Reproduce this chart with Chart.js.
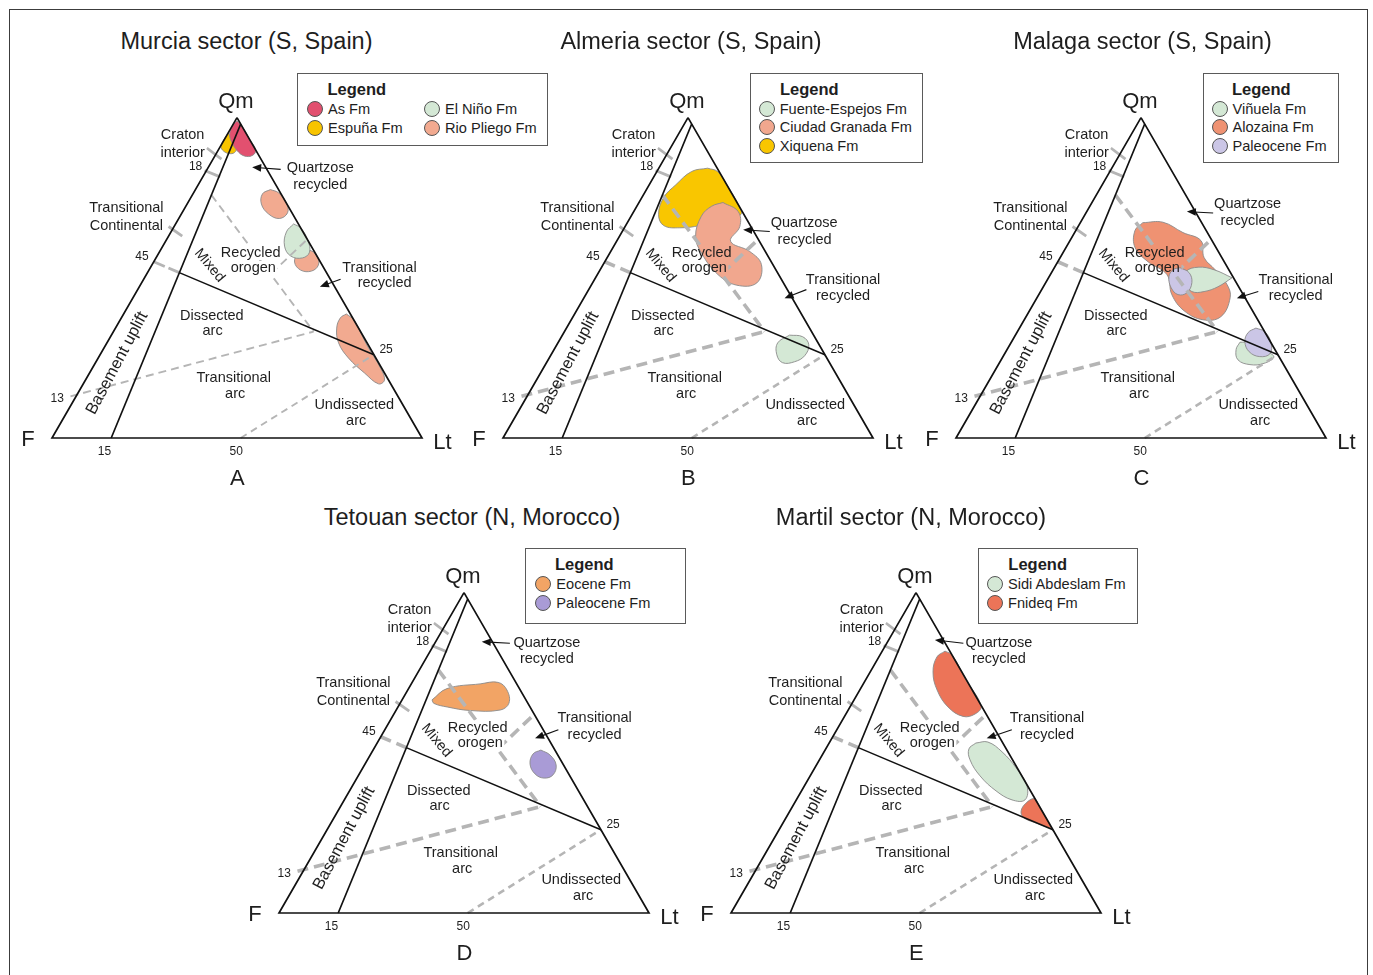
<!DOCTYPE html>
<html><head><meta charset="utf-8">
<script src="https://cdn.jsdelivr.net/npm/chart.js@4.4.1/dist/chart.umd.min.js"></script>
<style>
body{margin:0;background:#fff;width:1373px;height:975px;overflow:hidden;position:relative;font-family:"Liberation Sans",Arial,sans-serif;color:#1e1e1e}
.frame{position:absolute;left:9px;top:9px;width:1357px;height:1000px;border:1.5px solid #3c3c3c}
.panel{position:absolute;width:450px;height:440px}
.title{position:absolute;font-size:23.5px;transform:translate(-50%,-50%);white-space:nowrap}
.legend{position:absolute;border:1px solid #5a5a5a;background:#fff;box-sizing:border-box}
.lg-h{position:absolute;font-weight:bold;font-size:16.5px;transform:translateY(-50%);white-space:nowrap}
.lg-m{position:absolute;width:16px;height:16px;border-radius:50%;border:1px solid #555;box-sizing:border-box;transform:translate(-50%,-50%)}
.lg-t{position:absolute;font-size:14.6px;transform:translateY(-50%);white-space:nowrap}
</style></head>
<body>
<div class="frame"></div>
<script>
// ---------- data: compositions [Qm, F, Lt] (%) ----------
const VERTICES = [[100,0,0],[0,100,0],[0,0,100],[100,0,0]];
const BASEMENT_LINE = [[0,84,16],[98,0,2]];
const ARC_LINE = [[51.6,39.8,8.6],[26,0,74]];
const ARC_LINE_EXT = [[55,45,0],[51.6,39.8,8.6]];
const MIXED_LINE = [[75.8,19,5.2],[33.2,12.7,54.1]];
const TRANS_ARC_LINE = [[13,88.5,-1.5],[33.2,12.7,54.1]];
const UNDISSECTED_LINE = [[0,49,51],[26,0,74]];
const TRANS_RECYCLED_LINE = [[51.4,15,33.6],[62,0,38]];
const CRATON_TICK = [[90.5,12.9,-3.4],[87,10.7,2.3]];
const TICK_18 = [[83.5,17,-0.5],[81.5,13.8,4.7]];
const TRANS_CONT_TICK = [[66,35.5,-1.5],[63,33.3,3.7]];

// Murcia
const A_ESPUNA = [[95.2,4.8,0],[91.4,8.6,0],[89.9,9,1.1],[88.8,7.9,3.3],[89.1,6.1,4.8],[90.8,4.7,4.5],[93.3,4.6,2.1]];
const A_AS = [[99,0.5,0.5],[96.8,0,3.2],[93,0,7],[89.9,0,10.1],[88.2,1.7,10.1],[88,4,8],[89.6,5.1,5.3],[91.8,5.3,2.9],[94.6,4.7,0.7],[97.3,2.6,0.1]];
const A_RIO_1 = [[77.6,2.2,20.3],[76.5,0.5,23],[73.3,0,26.7],[70.2,1.2,28.5],[68.5,4.3,27.2],[69.9,6.5,23.6],[73,6.9,20.1],[76.2,5,18.8]];
const A_RIO_2 = [[58,4.6,37.4],[58.7,1.3,40],[56.8,0,43.2],[54,1,45],[52.1,3.8,44.1],[52.4,6.6,41],[54.9,7,38.1]];
const A_ELNINO = [[66.8,1.3,31.9],[65.5,0,34.5],[61.8,0,38.2],[58,1.4,40.6],[56.2,4.2,39.6],[56.8,7.1,36.1],[59.9,7.2,32.9],[64.3,4.5,31.2]];
const A_RIO_3 = [[38.7,1.1,60.2],[36.8,0,63.2],[28.7,0.4,70.9],[21.8,0.3,77.9],[18.1,1.1,80.8],[16.9,3.3,79.8],[20.3,5.4,74.3],[25,7.4,67.6],[29.7,7.7,62.6],[34.3,5.9,59.8],[37.5,3.3,59.2]];
// Almeria
const B_XIQUENA = [[84.2,2.6,13.2],[83.1,0.4,16.5],[78.4,0,21.6],[72.8,0,27.2],[69.7,0.9,29.4],[68.1,7.4,24.5],[66.3,13.7,20],[65.6,19.4,15],[66.3,23.4,10.3],[69.7,23.1,7.2],[75,19.1,5.9],[79.1,13.8,7.2],[83.1,7.4,9.4]];
const B_CIUDAD = [[73.5,3.8,22.7],[70.7,1.1,28.2],[66,3,31],[61.4,7.8,30.8],[58.2,4.2,37.6],[54.1,3.1,42.8],[48.4,7.2,44.4],[47.7,13,39.3],[51,16.4,32.6],[57.7,17.5,24.8],[62.9,16.5,20.6],[69.2,11.8,19],[72.3,7.5,20.2]];
const B_FUENTE = [[32.1,6.5,61.4],[31.6,3.2,65.2],[29.1,2.8,68.1],[25.7,5.6,68.7],[23.8,9.3,66.9],[23.5,12.7,63.8],[26,13,61],[29.7,10.9,59.4]];
// Malaga
const C_ALOZAINA = [[67.2,15.9,16.9],[67.4,10.4,22.3],[64.1,6.6,29.3],[61.6,3,35.4],[56.3,4.8,38.9],[52.5,3.7,43.8],[47.8,2.8,49.3],[43.8,4,52.2],[37.9,9.5,52.7],[36.9,14.8,48.3],[39.7,18.5,41.8],[44.7,19.3,36],[51,17.5,31.5],[55,20.6,24.4],[59.4,21.9,18.7],[64.7,19.3,16]];
const C_VINUELA_1 = [[50,0.4,49.6],[47.2,5.6,47.2],[45.7,10.1,44.2],[45.7,13.4,40.9],[48.2,13.8,38],[51.9,11.9,36.2],[53.3,7.9,38.8],[52.5,4,43.5]];
const C_PALEO_1 = [[53.2,12.9,34],[51.6,11.2,37.2],[48.5,12,39.5],[45.4,14.9,39.8],[44.7,17.6,37.6],[46.9,18.4,34.7],[50.3,17.3,32.4],[52.5,15.1,32.4]];
const C_VINUELA_2 = [[29.9,8.3,61.8],[27.6,10.5,61.9],[24.4,11.6,64],[22.9,9.1,68],[23.3,5.1,71.6],[25.4,1.4,73.2],[27.6,3.5,68.9],[29.7,5.7,64.6]];
const C_PALEO_2 = [[34.3,1.8,63.9],[33.2,0,66.8],[29.7,0,70.3],[26.3,2,71.7],[25.4,5.2,69.4],[26.9,7.3,65.7],[30.1,6.9,63.1],[32.9,4.6,62.5]];
// Tetouan
const D_EOCENE = [[66.5,25.4,8.1],[70.1,19.6,10.4],[71.5,9.9,18.6],[71.9,4.8,23.2],[69.6,3.6,26.8],[65.5,5.1,29.4],[63.4,8.6,28.1],[63.2,16.8,20],[64.3,22.4,13.3],[65.4,25.4,9.2]];
const D_PALEO = [[50.9,3.8,45.4],[49.3,2.1,48.6],[46.2,2,51.8],[43.1,4.4,52.5],[42.1,7.3,50.6],[43.4,9.1,47.5],[46.5,8.9,44.6],[49.6,6.5,43.8]];
// Martil
const E_FNIDEQ_1 = [[81.8,1.3,17],[80.5,0,19.5],[72.7,0.1,27.2],[64.6,0.1,35.3],[62.1,3,34.9],[61.3,6.6,32],[64.3,9.2,26.5],[69.6,9.5,20.9],[75.2,7.8,17],[79.9,4.4,15.7]];
const E_SIDI = [[53.1,7.3,39.7],[53.4,3.9,42.8],[50.3,1.6,48.1],[45.3,0.3,54.4],[39.6,0.2,60.2],[35.3,2.9,61.8],[35.3,6.4,58.3],[38.1,9.3,52.6],[42.8,11.3,45.9],[47.8,11.5,40.7],[51.2,10.1,38.7]];
const E_FNIDEQ_2 = [[26.2,0.1,73.7],[30.3,0,69.7],[33.7,0,66.3],[35.7,0.2,64.1],[34.3,3.1,62.6],[31.8,5.7,62.5],[29.7,6,64.3],[27.9,3.1,69]];

const TITLES = ['Murcia sector (S, Spain)','Almeria sector (S, Spain)','Malaga sector (S, Spain)','Tetouan sector (N, Morocco)','Martil sector (N, Morocco)'];
const LETTERS = ['A','B','C','D','E'];
const A_NAMES = ['As Fm','Espuña Fm','El Niño Fm','Rio Pliego Fm'];
const B_NAMES = ['Fuente-Espejos Fm','Ciudad Granada Fm','Xiquena Fm'];
const C_NAMES = ['Viñuela Fm','Alozaina Fm','Paleocene Fm'];
const D_NAMES = ['Eocene Fm','Paleocene Fm'];
const E_NAMES = ['Sidi Abdeslam Fm','Fnideq Fm'];

// ---------- styles ----------
const COLORS = {
  'A:As Fm':'#e2506f','A:Espuña Fm':'#f8c400','A:El Niño Fm':'#d4e8d5','A:Rio Pliego Fm':'#f2aa90',
  'B:Fuente-Espejos Fm':'#d4e8d5','B:Ciudad Granada Fm':'#f1a78e','B:Xiquena Fm':'#f9c600',
  'C:Viñuela Fm':'#d4e8d5','C:Alozaina Fm':'#ef9272','C:Paleocene Fm':'#cbc6e6',
  'D:Eocene Fm':'#f2a465','D:Paleocene Fm':'#a99bd6',
  'E:Sidi Abdeslam Fm':'#d4e8d5','E:Fnideq Fm':'#ec7458'
};
const FONT = '"Liberation Sans", Arial, sans-serif';
const U = 3.7; // px per diagram unit (side = 100 units)
const ZONE = 14.5;

const COMMON_LABELS = [
 {t:'Qm',x:49.7,y:90.9,s:22},{t:'F',x:-6.5,y:-0.5,s:22},{t:'Lt',x:105.5,y:-1.4,s:22},
 {t:'Craton',x:35.3,y:81.9},{t:'interior',x:35.3,y:77.0},{t:'18',x:38.8,y:73.2,s:12},
 {t:'Transitional',x:20.1,y:62.2},{t:'Continental',x:20.1,y:57.2},{t:'45',x:24.3,y:49.1,s:12},
 {t:'Mixed',x:42.6,y:46.6,rot:50,s:14.5},
 {t:'Recycled',x:53.7,y:50.1},{t:'orogen',x:54.4,y:45.9},
 {t:'Dissected',x:43.2,y:33.0},{t:'arc',x:43.4,y:29.0},
 {t:'Transitional',x:49.1,y:16.1},{t:'arc',x:49.5,y:11.8},
 {t:'Undissected',x:81.7,y:8.9},{t:'arc',x:82.2,y:4.6},
 {t:'Basement uplift',x:17.6,y:20.2,rot:-62,s:16.5},
 {t:'13',x:1.4,y:10.5,s:12},{t:'15',x:14.2,y:-3.7,s:12},{t:'50',x:49.8,y:-3.7,s:12},{t:'25',x:90.3,y:23.8,s:12}
];

const PANELS = [
 {key:'A', fx:51.5, by:438, thick:false, titleX:246.5, titleY:41,
  blobs:[[A_ESPUNA,'Espuña Fm'],[A_AS,'As Fm'],[A_RIO_1,'Rio Pliego Fm'],[A_RIO_2,'Rio Pliego Fm'],[A_ELNINO,'El Niño Fm'],[A_RIO_3,'Rio Pliego Fm']],
  labels:[{t:'Quartzose',x:72.5,y:72.9},{t:'recycled',x:72.5,y:68.4},{t:'Transitional',x:88.5,y:45.9},{t:'recycled',x:89.9,y:41.8}],
  arrows:[[61.8,72.6,54.1,73.2],[78.0,42.9,72.4,40.9]],
  legend:{names:A_NAMES, box:[297,73,251,73], head:[327.5,89], items:[[315,108.5],[315,127.5],[432,108.5],[432,127.5]], order:[0,1,2,3]}},
 {key:'B', fx:503.3, by:438.3, thick:true, titleX:691, titleY:41,
  blobs:[[B_XIQUENA,'Xiquena Fm'],[B_CIUDAD,'Ciudad Granada Fm'],[B_FUENTE,'Fuente-Espejos Fm']],
  labels:[{t:'Quartzose',x:81.4,y:58.1},{t:'recycled',x:81.5,y:53.6},{t:'Transitional',x:91.9,y:42.8},{t:'recycled',x:91.9,y:38.3}],
  arrows:[[72.1,55.8,64.9,56.3],[82.0,40.1,76.1,37.8]],
  legend:{names:B_NAMES, box:[750,73,173,90], head:[780,89], items:[[766.7,108.5],[766.7,127.3],[766.7,146]]}},
 {key:'C', fx:956, by:438.3, thick:true, titleX:1142.5, titleY:41,
  blobs:[[C_ALOZAINA,'Alozaina Fm'],[C_VINUELA_1,'Viñuela Fm'],[C_PALEO_1,'Paleocene Fm'],[C_VINUELA_2,'Viñuela Fm'],[C_PALEO_2,'Paleocene Fm']],
  labels:[{t:'Quartzose',x:78.8,y:63.3},{t:'recycled',x:78.8,y:58.7},{t:'Transitional',x:91.8,y:42.8},{t:'recycled',x:91.8,y:38.3}],
  arrows:[[69.5,60.8,62.4,61.2],[81.7,39.6,75.9,37.8]],
  legend:{names:C_NAMES, box:[1203,73,136,90], head:[1232,89], items:[[1219.5,108.5],[1219.5,127.3],[1219.5,146]]}},
 {key:'D', fx:279, by:913, thick:true, titleX:472, titleY:517,
  blobs:[[D_EOCENE,'Eocene Fm'],[D_PALEO,'Paleocene Fm']],
  labels:[{t:'Quartzose',x:72.4,y:73.1},{t:'recycled',x:72.4,y:68.6},{t:'Transitional',x:85.3,y:52.6},{t:'recycled',x:85.3,y:48.1}],
  arrows:[[62.4,72.9,54.8,73.3],[75.5,49.5,69.2,47.2]],
  legend:{names:D_NAMES, box:[525,548.3,161,76], head:[555,564.3], items:[[543.3,584],[543.3,603]]}},
 {key:'E', fx:731, by:913, thick:true, titleX:911, titleY:517,
  blobs:[[E_FNIDEQ_1,'Fnideq Fm'],[E_SIDI,'Sidi Abdeslam Fm'],[E_FNIDEQ_2,'Fnideq Fm']],
  labels:[{t:'Quartzose',x:72.4,y:73.1},{t:'recycled',x:72.4,y:68.6},{t:'Transitional',x:85.4,y:52.6},{t:'recycled',x:85.4,y:48.1}],
  arrows:[[62.8,72.9,55.1,73.8],[75.9,49.5,69.1,47.2]],
  legend:{names:E_NAMES, box:[977.7,548.3,160.6,76], head:[1008.3,564.3], items:[[995,584],[995,603]]}}
];

// ---------- helpers ----------
function tern(p){
  const s = p[0]+p[1]+p[2];
  const qm = p[0]/s*100, lt = p[2]/s*100;
  return {x: lt + qm/2, y: qm*0.8660254};
}
function ring(pts){ return pts.concat([pts[0]]).map(tern); }
function fnt(s,b){ return (b?'bold ':'')+s+'px '+FONT; }

function makeAnnot(labels, arrows){
  return {
    id:'annot',
    beforeDatasetDraw(chart,args){
      const ds = chart.data.datasets[args.index];
      if(!ds.knock) return;
      const ctx = chart.ctx, sx = chart.scales.x, sy = chart.scales.y;
      ctx.save();
      ctx.beginPath();
      ctx.rect(-10,-10,chart.width+20,chart.height+20);
      labels.forEach(l=>{
        if(l.rot) return;
        const s = l.s||ZONE; ctx.font = fnt(s,l.b);
        const w = ctx.measureText(l.t).width;
        const px = sx.getPixelForValue(l.x), py = sy.getPixelForValue(l.y);
        ctx.rect(px-w/2-1.5, py-s*0.5, w+3, s);
      });
      ctx.clip('evenodd');
    },
    afterDatasetDraw(chart,args){
      if(chart.data.datasets[args.index].knock) chart.ctx.restore();
    },
    afterDatasetsDraw(chart){
      const ctx = chart.ctx, sx = chart.scales.x, sy = chart.scales.y;
      ctx.save();
      arrows.forEach(a=>{
        const x1=sx.getPixelForValue(a[0]), y1=sy.getPixelForValue(a[1]);
        const x2=sx.getPixelForValue(a[2]), y2=sy.getPixelForValue(a[3]);
        const ang=Math.atan2(y2-y1,x2-x1), L=9, W=3.8;
        ctx.strokeStyle='#111'; ctx.lineWidth=1.1;
        ctx.beginPath(); ctx.moveTo(x1,y1); ctx.lineTo(x2-Math.cos(ang)*L*0.8,y2-Math.sin(ang)*L*0.8); ctx.stroke();
        ctx.fillStyle='#111'; ctx.beginPath();
        ctx.moveTo(x2,y2);
        ctx.lineTo(x2-Math.cos(ang)*L+Math.sin(ang)*W, y2-Math.sin(ang)*L-Math.cos(ang)*W);
        ctx.lineTo(x2-Math.cos(ang)*L-Math.sin(ang)*W, y2-Math.sin(ang)*L+Math.cos(ang)*W);
        ctx.closePath(); ctx.fill();
      });
      ctx.fillStyle='#1e1e1e'; ctx.textAlign='center'; ctx.textBaseline='middle';
      labels.forEach(l=>{
        const px=sx.getPixelForValue(l.x), py=sy.getPixelForValue(l.y);
        ctx.font=fnt(l.s||ZONE,l.b);
        ctx.save(); ctx.translate(px,py);
        if(l.rot) ctx.rotate(l.rot*Math.PI/180);
        ctx.fillText(l.t,0,0); ctx.restore();
      });
      ctx.restore();
    }
  };
}

function lineDs(pts, color, width, dash, order, knock){
  return {data: pts.map(tern), showLine:true, fill:false, borderColor:color, borderWidth:width,
          borderDash:dash||[], pointRadius:0, tension:0, order:order, knock:!!knock};
}

PANELS.forEach((p,pi)=>{
  const wrap=document.createElement('div'); wrap.className='panel';
  wrap.style.left=(p.fx-50)+'px'; wrap.style.top=(p.by-380)+'px';
  const cv=document.createElement('canvas'); cv.width=450; cv.height=440;
  cv.style.width='450px'; cv.style.height='440px';
  wrap.appendChild(cv); document.body.appendChild(wrap);

  const datasets=[];
  let ord=200;
  p.blobs.forEach(b=>{
    datasets.push({data:ring(b[0]), showLine:true, fill:'shape', backgroundColor:COLORS[p.key+':'+b[1]],
      borderColor:'#8a8a8a', borderWidth:0.9, pointRadius:0, tension:0.4, order:ord--});
  });
  const G='#b5b5b5';
  const thickW = p.thick?3.6:1.9, thickD = p.thick?[11,6]:[8,5];
  const undW = p.thick?2.6:1.9;
  datasets.push(lineDs(MIXED_LINE,G,thickW,thickD,50,true));
  datasets.push(lineDs(TRANS_ARC_LINE,G,thickW,thickD,50,true));
  datasets.push(lineDs(UNDISSECTED_LINE,G,undW,[7,5],50,true));
  datasets.push(lineDs(TRANS_RECYCLED_LINE,G,thickW,thickD,50,true));
  datasets.push(lineDs(ARC_LINE_EXT,G,p.thick?3.6:2.8,p.thick?[11,6]:[12,4],50,true));
  datasets.push(lineDs(CRATON_TICK,G,2.8,[],50,true));
  datasets.push(lineDs(TICK_18,G,2.8,[],50,true));
  datasets.push(lineDs(TRANS_CONT_TICK,G,2.8,[],50,true));
  datasets.push(lineDs(VERTICES,'#111',1.7,[],10));
  datasets.push(lineDs(BASEMENT_LINE,'#111',1.7,[],10));
  datasets.push(lineDs(ARC_LINE,'#111',1.5,[],10));

  const labels = COMMON_LABELS.concat(p.labels).concat([{t:LETTERS[pi],x:50.1,y:-11.1,s:22}]);
  new Chart(cv,{
    type:'scatter',
    data:{datasets},
    options:{
      responsive:false, animation:false, events:[], devicePixelRatio:1,
      layout:{padding:0},
      plugins:{legend:{display:false}, tooltip:{enabled:false}},
      scales:{
        x:{type:'linear', min:-50/U, max:400/U, display:false},
        y:{type:'linear', min:-60/U, max:380/U, display:false}
      }
    },
    plugins:[makeAnnot(labels,p.arrows)]
  });

  // title
  const t=document.createElement('div'); t.className='title'; t.textContent=TITLES[pi];
  t.style.left=p.titleX+'px'; t.style.top=p.titleY+'px'; document.body.appendChild(t);

  // legend
  const L=p.legend;
  const box=document.createElement('div'); box.className='legend';
  box.style.left=L.box[0]+'px'; box.style.top=L.box[1]+'px'; box.style.width=L.box[2]+'px'; box.style.height=L.box[3]+'px';
  document.body.appendChild(box);
  const h=document.createElement('div'); h.className='lg-h'; h.textContent='Legend';
  h.style.left=L.head[0]+'px'; h.style.top=L.head[1]+'px'; document.body.appendChild(h);
  L.names.forEach((n,i)=>{
    const [mx,my]=L.items[i];
    const m=document.createElement('div'); m.className='lg-m';
    m.style.left=mx+'px'; m.style.top=my+'px'; m.style.background=COLORS[p.key+':'+n];
    document.body.appendChild(m);
    const tx=document.createElement('div'); tx.className='lg-t'; tx.textContent=n;
    tx.style.left=(mx+13)+'px'; tx.style.top=my+'px'; document.body.appendChild(tx);
  });
});
</script>
</body></html>
